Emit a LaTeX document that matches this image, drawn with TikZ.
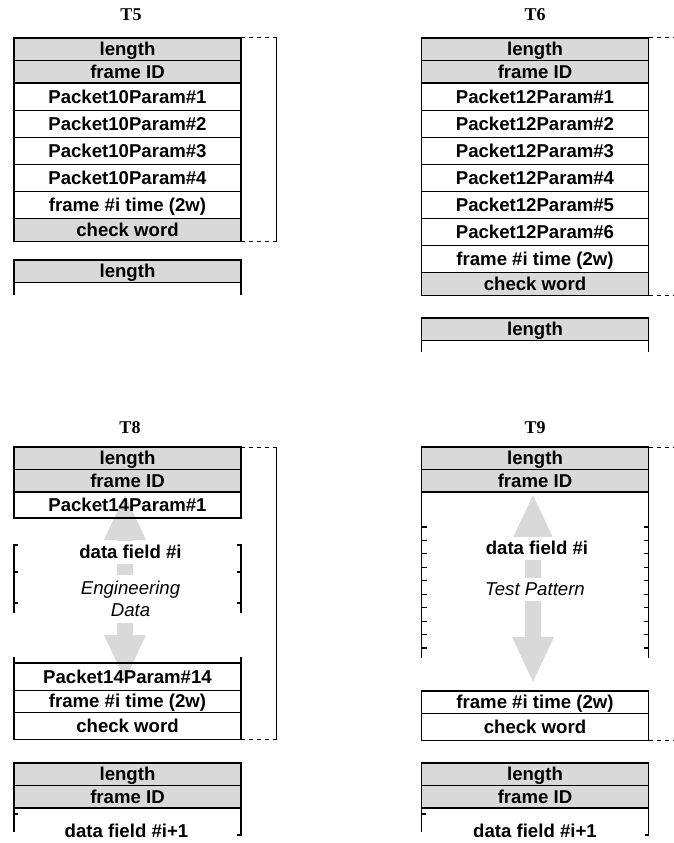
\documentclass[tikz,border=0pt]{standalone}
\usepackage{fontspec}
\newfontfamily\arialfont{Liberation Sans}
\newfontfamily\timesfont{Liberation Serif}
\usetikzlibrary{positioning}
\definecolor{boxgray}{HTML}{D9D9D9}

% double headed gray arrow: x, top tip, bottom tip
\newcommand\grayarrow[3]{%
  \fill[boxgray] (#1,#2) -- (#1+21,#2+45) -- (#1+8,#2+45) -- (#1+8,#3-45)
    -- (#1+21,#3-45) -- (#1,#3) -- (#1-21,#3-45) -- (#1-8,#3-45)
    -- (#1-8,#2+45) -- (#1-21,#2+45) -- cycle;}

\begin{document}
\begin{tikzpicture}[
    x=1pt, y=-1pt,
    txt/.style={font=\arialfont\bfseries\fontsize{18.6}{22}\selectfont,
        text height=17pt, text depth=4pt},
    field/.style={txt, draw, line width=1.1pt, minimum width=227pt,
        minimum height=27.1pt, inner sep=0pt, outer sep=0pt},
    slim/.style={field, minimum height=22.5pt},
    hdr/.style={slim, fill=boxgray},
    ttl/.style={font=\timesfont\bfseries\fontsize{18}{20}\selectfont},
    lbl/.style={txt, fill=white, inner xsep=2pt, inner ysep=1pt},
    notetxt/.style={font=\arialfont\itshape\fontsize{18.6}{22}\selectfont,
        align=center, fill=white, inner sep=1pt},
    rim/.style={line width=1.1pt},
    dashlink/.style={line width=1pt, dash pattern=on 4pt off 4pt},
    sideline/.style={line width=0.9pt}
]
\useasboundingbox (0,0) rectangle (674,843);

% T5
\node (t5) [ttl] at (131,15) {T5};
\node (t5len) [hdr, anchor=north] at (127.5,38) {length};
\node (t5fid) [hdr, below=0pt of t5len] {frame ID};
\node (t5p1) [field, below=0pt of t5fid] {Packet10Param\#1};
\node (t5p2) [field, below=0pt of t5p1] {Packet10Param\#2};
\node (t5p3) [field, below=0pt of t5p2] {Packet10Param\#3};
\node (t5p4) [field, below=0pt of t5p3] {Packet10Param\#4};
\node (t5tim) [field, minimum height=27.5pt, below=0pt of t5p4] {frame \#i time (2w)};
\node (t5chk) [hdr, below=0pt of t5tim] {check word};
\node (t5len2) [hdr, anchor=north] at (127.5,260) {length};
\draw[rim] (t5len2.south west) -- ++(0,12);
\draw[rim] (t5len2.south east) -- ++(0,12);
\draw[dashlink] (t5len.north east) -- ++(39,0);
\draw[dashlink] (t5chk.south east) -- ++(39,0);
\draw[sideline] (276,38) -- (276,241);

% T6
\node (t6) [ttl] at (535,15) {T6};
\node (t6len) [hdr, anchor=north] at (535,38) {length};
\node (t6fid) [hdr, below=0pt of t6len] {frame ID};
\node (t6p1) [field, below=0pt of t6fid] {Packet12Param\#1};
\node (t6p2) [field, below=0pt of t6p1] {Packet12Param\#2};
\node (t6p3) [field, below=0pt of t6p2] {Packet12Param\#3};
\node (t6p4) [field, below=0pt of t6p3] {Packet12Param\#4};
\node (t6p5) [field, below=0pt of t6p4] {Packet12Param\#5};
\node (t6p6) [field, below=0pt of t6p5] {Packet12Param\#6};
\node (t6tim) [field, below=0pt of t6p6] {frame \#i time (2w)};
\node (t6chk) [hdr, below=0pt of t6tim] {check word};
\node (t6len2) [hdr, anchor=north] at (535,318) {length};
\draw[rim] (t6len2.south west) -- ++(0,11);
\draw[rim] (t6len2.south east) -- ++(0,11);
\draw[dashlink] (t6len.north east) -- ++(26,0);
\draw[dashlink] (t6chk.south east) -- ++(26,0);

% T8
\node (t8) [ttl] at (130,428) {T8};
\grayarrow{125}{495}{680}
\node (t8len) [hdr, anchor=north] at (127.5,447) {length};
\node (t8fid) [hdr, below=0pt of t8len] {frame ID};
\node (t8p1) [field, minimum height=26pt, below=0pt of t8fid] {Packet14Param\#1};
\node (t8dat) [lbl] at (130.5,552) {data field \#i};
\node (t8eng) [notetxt, minimum height=48pt] at (130.5,599) {Engineering\\Data};
\node (t8p14) [field, anchor=north] at (127.5,663) {Packet14Param\#14};
\node (t8tim) [slim, below=0pt of t8p14] {frame \#i time (2w)};
\node (t8chk) [field, below=0pt of t8tim] {check word};
\draw[rim] (18,545) -- (14,545) -- (14,613);
\draw[rim] (237,545) -- (241,545) -- (241,613);
\foreach \y in {572,603} {
    \draw[rim] (14,\y) -- ++(4,0);
    \draw[rim] (241,\y) -- ++(-4,0);
}
\draw[rim] (t8p14.north west) -- ++(0,-6);
\draw[rim] (t8p14.north east) -- ++(0,-6);
\draw[dashlink] (t8len.north east) -- ++(39,0);
\draw[dashlink] (t8chk.south east) -- ++(39,0);
\draw[sideline] (276,447) -- (276,740);

\node (t8len2) [hdr, anchor=north] at (127.5,763) {length};
\node (t8fid2) [hdr, below=0pt of t8len2] {frame ID};
\draw[rim] (18,814) -- (14,814) -- (14,832);
\draw[rim] (t8fid2.south west) -- ++(0,6);
\draw[rim] (t8fid2.south east) -- ++(0,27) -- ++(-4,0);
\node (t8nxt) [txt] at (126.5,831) {data field \#i+1};

% T9
\node (t9) [ttl] at (535,428) {T9};
\grayarrow{533}{495}{682}
\node (t9len) [hdr, anchor=north] at (535,447) {length};
\node (t9fid) [hdr, below=0pt of t9len] {frame ID};
\draw[rim] (t9fid.south west) -- ++(0,166);
\draw[rim] (t9fid.south east) -- ++(0,166);
\foreach \k in {0,...,9} {
    \draw[rim] (421.5,527+13.44*\k) -- ++(5,0);
    \draw[rim] (648.5,527+13.44*\k) -- ++(-5,0);
}
\node (t9dat) [lbl] at (537,548) {data field \#i};
\node (t9tst) [lbl, font=\arialfont\itshape\fontsize{18.6}{22}\selectfont] at (535,589) {Test Pattern};
\node (t9tim) [slim, anchor=north] at (535,691) {frame \#i time (2w)};
\node (t9chk) [field, below=0pt of t9tim] {check word};
\draw[dashlink] (t9len.north east) -- ++(26,0);
\draw[dashlink] (t9chk.south east) -- ++(26,0);

\node (t9len2) [hdr, anchor=north] at (535,763) {length};
\node (t9fid2) [hdr, below=0pt of t9len2] {frame ID};
\draw[rim] (425.5,814) -- (421.5,814) -- (421.5,832);
\draw[rim] (t9fid2.south west) -- ++(0,6);
\draw[rim] (t9fid2.south east) -- ++(0,27) -- ++(-4,0);
\node (t9nxt) [txt] at (535,831) {data field \#i+1};

\end{tikzpicture}
\end{document}
